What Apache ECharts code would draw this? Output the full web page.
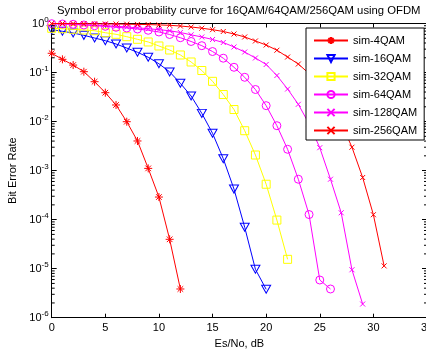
<!DOCTYPE html>
<html><head><meta charset="utf-8">
<script src="https://cdn.jsdelivr.net/npm/echarts@6/dist/echarts.min.js"></script>
<style>html,body{margin:0;padding:0;background:#fff}#c{width:426px;height:353px}</style>
</head><body><div id="c"></div>
<script>
// ---- data ----
const seriesNames = ['sim-4QAM','sim-16QAM','sim-32QAM','sim-64QAM','sim-128QAM','sim-256QAM'];
const esNoStart = 0; // dB, first point of every curve, 1 dB steps
const ser4QAM = [0.247, 0.186, 0.142, 0.104, 0.065, 0.0388, 0.0218, 0.00993, 0.00402, 0.00111, 2.89e-4, 3.97e-5, 3.85e-6];
const ser16QAM = [0.748, 0.693, 0.64, 0.574, 0.506, 0.446, 0.382, 0.316, 0.259, 0.205, 0.151, 0.103, 0.0603, 0.0332, 0.0147, 0.00576, 0.00175, 4.2e-4, 6.97e-5, 9.7e-6, 3.8e-6];
const ser32QAM = [0.798, 0.783, 0.762, 0.737, 0.713, 0.649, 0.602, 0.538, 0.476, 0.42, 0.348, 0.288, 0.228, 0.164, 0.11, 0.0662, 0.0356, 0.0176, 0.00651, 0.00208, 5.27e-4, 9.8e-5, 1.55e-5];
const ser64QAM = [0.99, 0.977, 0.963, 0.932, 0.902, 0.877, 0.837, 0.81, 0.772, 0.727, 0.671, 0.597, 0.513, 0.43, 0.353, 0.268, 0.196, 0.128, 0.08, 0.0451, 0.0211, 0.00824, 0.00272, 6.67e-4, 1.27e-4, 5.87e-6, 3.85e-6];
const ser128QAM = [0.991, 0.977, 0.963, 0.945, 0.923, 0.902, 0.877, 0.848, 0.817, 0.783, 0.748, 0.71, 0.655, 0.588, 0.531, 0.472, 0.41, 0.332, 0.262, 0.198, 0.146, 0.0869, 0.0461, 0.0225, 0.009, 0.00293, 6.67e-4, 1.38e-4, 9.5e-6, 1.9e-6];
const ser256QAM = [0.998, 0.997, 0.995, 0.991, 0.986, 0.981, 0.977, 0.968, 0.958, 0.95, 0.936, 0.919, 0.889, 0.848, 0.802, 0.748, 0.687, 0.611, 0.531, 0.44, 0.364, 0.285, 0.207, 0.149, 0.0955, 0.0519, 0.0239, 0.00935, 0.003, 7.23e-4, 1.26e-4, 1.14e-5];
const xTicks = [0, 5, 10, 15, 20, 25, 30, 35];
const yMinorTicks = [2e-6,3e-6,4e-6,5e-6,6e-6,7e-6,8e-6,9e-6, 2e-5,3e-5,4e-5,5e-5,6e-5,7e-5,8e-5,9e-5,
  2e-4,3e-4,4e-4,5e-4,6e-4,7e-4,8e-4,9e-4, 2e-3,3e-3,4e-3,5e-3,6e-3,7e-3,8e-3,9e-3,
  2e-2,3e-2,4e-2,5e-2,6e-2,7e-2,8e-2,9e-2, 0.2,0.3,0.4,0.5,0.6,0.7,0.8,0.9];
const titleText = 'Symbol error probability curve for 16QAM/64QAM/256QAM using OFDM';

// ---- styling ----
const FONT = '"Liberation Sans", Arial, sans-serif';
const colors = ['#ff0000','#0000ff','#ffff00','#ff00ff','#ff00ff','#ff0000'];
const symbols = [
  'path://M5,0L5,10M0,5L10,5M1.5,1.5L8.5,8.5M1.5,8.5L8.5,1.5',
  'path://M0,0L10,0L5,9Z',
  'path://M0,0L10,0L10,10L0,10Z',
  'circle',
  'path://M0,0L10,10M0,10L10,0',
  'path://M0,0L10,10M0,10L10,0'
];
const symbolSizes = [8, [9,8], 8, 8, 5, 5];
const allData = [ser4QAM, ser16QAM, ser32QAM, ser64QAM, ser128QAM, ser256QAM];

const series = allData.map((arr, k) => ({
  name: seriesNames[k],
  type: 'line',
  data: arr.map((v, i) => [esNoStart + i, v]),
  symbol: symbols[k],
  symbolSize: symbolSizes[k],
  showAllSymbol: true,
  lineStyle: { color: colors[k], width: 1 },
  itemStyle: { color: 'rgba(0,0,0,0)', borderColor: colors[k], borderWidth: 1 },
  emphasis: { disabled: true },
  animation: false,
  z: 2 + k * 0.01
}));

// minor log ticks on the left and right frame
series.push({
  type: 'custom',
  silent: true,
  animation: false,
  clip: false,
  data: yMinorTicks.map(v => [0, v]),
  renderItem: function (params, api) {
    const v = api.value(1);
    const p0 = api.coord([xTicks[0], v]);
    const p1 = api.coord([xTicks[xTicks.length - 1], v]);
    return { type: 'group', children: [
      { type: 'line', shape: { x1: p0[0], y1: p0[1], x2: p0[0] + 3, y2: p0[1] }, style: { stroke: '#000', lineWidth: 1 } },
      { type: 'line', shape: { x1: p1[0] - 3, y1: p1[1], x2: p1[0], y2: p1[1] }, style: { stroke: '#000', lineWidth: 1 } }
    ]};
  },
  z: 5
});

const axisLineBlack = { show: true, onZero: false, lineStyle: { color: '#000', width: 1 } };
const chart = echarts.init(document.getElementById('c'), null, { renderer: 'canvas' });
chart.setOption({
  backgroundColor: '#fff',
  animation: false,
  title: {
    text: titleText, left: 57, top: 5, padding: 0,
    textStyle: { fontFamily: FONT, fontSize: 11.3, fontWeight: 'normal', color: '#000' }
  },
  legend: {
    data: seriesNames,
    orient: 'vertical',
    left: 306, top: 28,
    itemWidth: 34, itemHeight: 9, itemGap: 7,
    padding: [7, 7, 4, 7],
    backgroundColor: '#fff',
    borderColor: '#000', borderWidth: 1,
    textStyle: { fontFamily: FONT, fontSize: 11, color: '#000' },
    selectedMode: false
  },
  grid: { left: 51.7, top: 23.5, right: -1, bottom: 35.3, show: false, containLabel: false, outerBoundsMode: 'none' },
  xAxis: [{
    type: 'value', min: 0, max: 35, interval: 5, position: 'bottom',
    name: 'Es/No, dB', nameLocation: 'middle', nameGap: 20,
    nameTextStyle: { fontFamily: FONT, fontSize: 11, color: '#000' },
    axisLine: axisLineBlack,
    axisTick: { show: true, inside: true, length: 4, lineStyle: { color: '#000' } },
    axisLabel: { fontFamily: FONT, fontSize: 11, color: '#000', margin: 5, hideOverlap: false },
    splitLine: { show: false }
  }, {
    type: 'value', min: 0, max: 35, interval: 5, position: 'top',
    axisLine: axisLineBlack,
    axisTick: { show: true, inside: true, length: 4, lineStyle: { color: '#000' } },
    axisLabel: { show: false }, splitLine: { show: false }
  }],
  yAxis: [{
    type: 'log', logBase: 10, min: 1e-6, max: 1, splitNumber: 6, position: 'left',
    name: 'Bit Error Rate', nameLocation: 'middle', nameGap: 32,
    nameTextStyle: { fontFamily: FONT, fontSize: 11, color: '#000' },
    axisLine: axisLineBlack,
    axisTick: { show: true, inside: true, length: 5, lineStyle: { color: '#000' } },
    axisLabel: {
      margin: 3, color: '#000',
      formatter: function (v) { return '{a|10}{b|' + Math.round(Math.log10(v)) + '}'; },
      rich: {
        a: { fontFamily: FONT, fontSize: 11, color: '#000' },
        b: { fontFamily: FONT, fontSize: 8, color: '#000', padding: [0, 0, 8, 0] }
      }
    },
    splitLine: { show: false }
  }, {
    type: 'log', logBase: 10, min: 1e-6, max: 1, splitNumber: 6, position: 'right',
    axisLine: axisLineBlack,
    axisTick: { show: true, inside: true, length: 5, lineStyle: { color: '#000' } },
    axisLabel: { show: false }, splitLine: { show: false }
  }],
  series: series
});
</script>
</body></html>
